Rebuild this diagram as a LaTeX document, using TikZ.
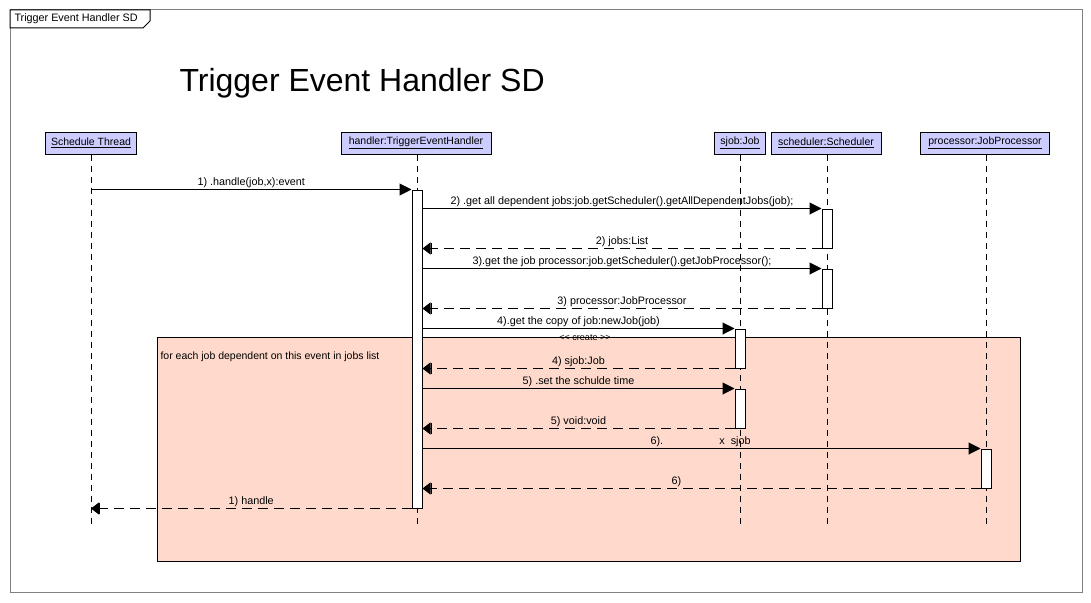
\documentclass[tikz,border=0pt]{standalone}
\usepackage{fontspec}
\setmainfont{Liberation Sans}
\usetikzlibrary{arrows.meta}
\definecolor{headfill}{RGB}{204,204,255}
\definecolor{loopfill}{RGB}{255,218,204}
\definecolor{framegray}{RGB}{128,128,128}
\tikzset{
  head/.style={draw=black, fill=headfill, line width=1pt, minimum height=22pt, inner sep=0pt},
  life/.style={draw=black, line width=1pt, dash pattern=on 6pt off 5pt},
  actbar/.style={draw=black, fill=white, line width=1pt, minimum width=10pt, inner sep=0pt},
  call/.style={draw=black, line width=1pt, -{Triangle[length=12pt,width=12pt]}},
  ret/.style={draw=black, line width=1pt, dash pattern=on 10pt off 6pt, -{Bar[width=11pt,sep=0pt] Triangle[length=8pt,width=12pt,sep=0pt]}},
  lbl/.style={above, inner sep=1.5pt, font=\fontsize{10.8}{12}\selectfont},
}
\begin{document}
\begin{tikzpicture}[x=1pt,y=-1pt, line width=1pt, font=\fontsize{10.5}{12}\selectfont]
\useasboundingbox (0,0) rectangle (1091,602);
% outer frame and tab
\draw[framegray] (10,10) rectangle (1082,592);
\draw[black, fill=white] (10,10) -- (150,10) -- (150,21) -- (143,28) -- (10,28) -- cycle;
\node[anchor=west, inner sep=0pt, font=\fontsize{10.8}{12}\selectfont] (tab) at (14,19) {Trigger Event Handler SD};
% title
\node[anchor=base west, inner sep=0pt, font=\fontsize{32}{36}\selectfont] (title) at (179,91) {Trigger Event Handler SD};
% loop fragment
\path[draw=black, fill=loopfill] (157,337) rectangle (1020,561);
\node[anchor=west, inner sep=0pt] (looplbl) at (160,357) {for each job dependent on this event in jobs list};
% heads
\node[head, minimum width=91pt] (st) at (91,143) {\underline{Schedule Thread}\ };
\node[head, minimum width=150pt] (h) at (416,143) {\underline{handler:TriggerEventHandler}};
\node[head, minimum width=51pt] (sj) at (740,143) {\underline{sjob:Job}};
\node[head, minimum width=110pt] (sc) at (826,143) {\underline{scheduler:Scheduler}};
\node[head, minimum width=129pt] (pr) at (985,143) {\underline{processor:JobProcessor}};
\coordinate (bot) at (0,524);
% lifelines
\draw[life] (st.south) -- (st.south |- bot);
\draw[life] ([xshift=1pt]h.south) -- ([xshift=1pt]h.south |- bot);
\draw[life] (sj.south) -- (sj.south |- bot);
\draw[life] ([xshift=1pt]sc.south) -- ([xshift=1pt]sc.south |- bot);
\draw[life] ([xshift=1pt]pr.south) -- ([xshift=1pt]pr.south |- bot);
% activations
\node[actbar, minimum height=318pt] (a0) at (417,349) {};
\node[actbar, minimum height=39pt] (a1) at (827,228.5) {};
\node[actbar, minimum height=39pt] (a2) at (827,288.5) {};
\node[actbar, minimum height=39pt] (a3) at (740,348.5) {};
\node[actbar, minimum height=39pt] (a4) at (740,408.5) {};
\node[actbar, minimum height=39pt] (a5) at (986,468.5) {};
% messages
\draw[call] (st |- a0.north) -- (a0.north west) node[lbl, midway] {1) .handle(job,x):event};
\draw[call] (a0.east |- a1.north) -- (a1.north west) node[lbl, midway] {2) .get all dependent jobs:job.getScheduler().getAllDependentJobs(job);};
\draw[ret] (a1.south west) -- (a0.east |- a1.south) node[lbl, midway] {2) jobs:List};
\draw[call] (a0.east |- a2.north) -- (a2.north west) node[lbl, midway] {3).get the job processor:job.getScheduler().getJobProcessor();};
\draw[ret] (a2.south west) -- (a0.east |- a2.south) node[lbl, midway] {3) processor:JobProcessor};
\draw[call] (a0.east |- a3.north) -- (a3.north west) node[lbl, midway] {4).get the copy of job:newJob(job)};
\node[font=\fontsize{9}{10}\selectfont, inner sep=0pt] (create) at (585,338) {{<}{<} create {>}{>}};
\draw[ret] (a3.south west) -- (a0.east |- a3.south) node[lbl, midway] {4) sjob:Job};
\draw[call] (a0.east |- a4.north) -- (a4.north west) node[lbl, midway] {5) .set the schulde time};
\draw[ret] (a4.south west) -- (a0.east |- a4.south) node[lbl, midway] {5) void:void};
\draw[call] (a0.east |- a5.north) -- (a5.north west) node[lbl, pos=0.42] {6).} node[lbl, pos=0.56] {x\ \ sjob};
\draw[ret] (a5.south west) -- (a0.east |- a5.south) node[lbl, pos=0.545] {6)};
\draw[ret] (a0.south west) -- (st |- a0.south) node[lbl, midway] {1) handle};
\end{tikzpicture}
\end{document}
